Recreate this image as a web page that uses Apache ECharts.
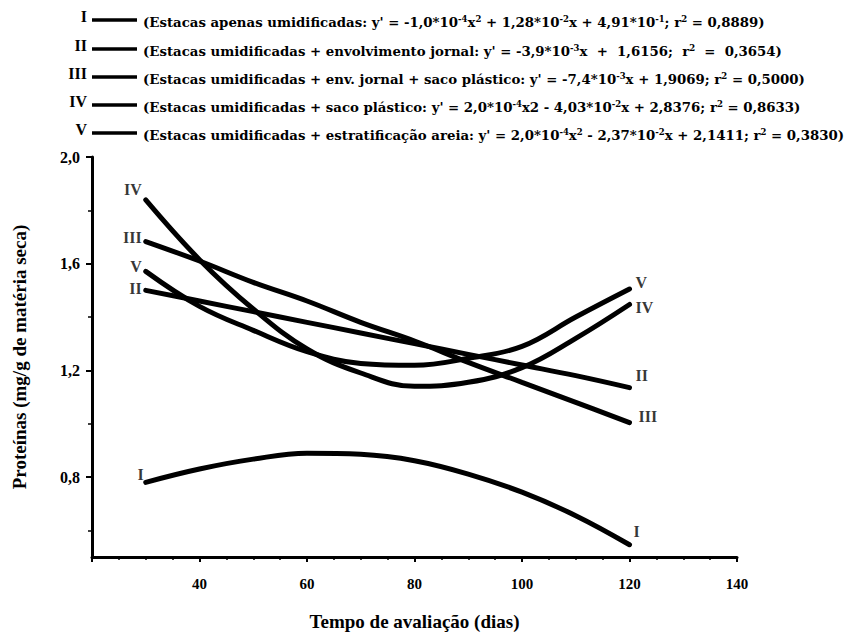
<!DOCTYPE html>
<html>
<head>
<meta charset="utf-8">
<script src="https://cdn.jsdelivr.net/npm/echarts@6/dist/echarts.min.js"></script>
<style>
  html, body { margin: 0; padding: 0; background: #fff; }
  #grafico { width: 847px; height: 636px; }
</style>
</head>
<body>
<div id="grafico"></div>
<script>
// dias de avaliacao (eixo x)
var dias = [30, 40, 50, 60, 70, 80, 90, 100, 110, 120];
// curvas
var curvaI   = [0.78, 0.83, 0.867, 0.889, 0.885, 0.861, 0.811, 0.743, 0.655, 0.546];
var curvaII  = [1.50, 1.46, 1.42, 1.38, 1.34, 1.30, 1.26, 1.22, 1.18, 1.135];
var curvaIII = [1.683, 1.61, 1.53, 1.46, 1.38, 1.31, 1.23, 1.155, 1.08, 1.004];
var curvaIV  = [1.839, 1.615, 1.43, 1.28, 1.19, 1.14, 1.155, 1.21, 1.32, 1.447];
var curvaV   = [1.571, 1.44, 1.35, 1.27, 1.226, 1.219, 1.245, 1.29, 1.40, 1.505];
var nomes = ['I', 'II', 'III', 'IV', 'V'];
var yTicks = [0.8, 1.2, 1.6, 2.0];
var yMinorTicks = [0.6, 1.0, 1.4, 1.8];
// legenda (texto entre chaves = sobrescrito)
var legendas = [
    "(Estacas apenas umidificadas: y' = -1,0*10{-4}x{2} + 1,28*10{-2}x + 4,91*10{-1}; r{2} = 0,8889)",
    "(Estacas umidificadas + envolvimento jornal: y' = -3,9*10{-3}x  +  1,6156;  r{2}  =  0,3654)",
    "(Estacas umidificadas + env. jornal + saco plástico: y' = -7,4*10{-3}x + 1,9069; r{2} = 0,5000)",
    "(Estacas umidificadas + saco plástico: y' = 2,0*10{-4}x2 - 4,03*10{-2}x + 2,8376; r{2} = 0,8633)",
    "(Estacas umidificadas + estratificação areia: y' = 2,0*10{-4}x{2} - 2,37*10{-2}x + 2,1411; r{2} = 0,3830)"
];

var fonte = 'Liberation Serif';
var fonteLeg = 'DejaVu Serif';
var curvas = [curvaI, curvaII, curvaIII, curvaIV, curvaV];

// posicao dos rotulos romanos no inicio e no fim de cada curva
var rotIni = [[2, -8], [0, -2], [0, -4], [0, -10], [0, -5]];
var rotFim = [[0, -13], [2, -12], [5, -6], [2, 3], [2, -7]];

// converte "{...}" em rich text sobrescrito
function richText(s) {
    return s.replace(/\{([^}]*)\}/g, function (m, p) { return '{sup|' + p + '}'; })
        .split(/(\{sup\|[^}]*\})/).map(function (t) {
            if (t.indexOf('{sup|') === 0) return t;
            return t ? '{n|' + t + '}' : '';
        }).join('');
}

function grafico() {
    var myChart = echarts.init(document.getElementById('grafico'), null, {renderer: 'svg'});
    var series = [];
    curvas.forEach(function (c, k) {
        series.push({
            name: nomes[k],
            type: 'line',
            smooth: 0.4,
            symbol: 'none',
            silent: true,
            data: dias.map(function (d, i) { return [d, c[i]]; }),
            lineStyle: {color: '#000', width: 5, cap: 'round'},
            z: 3
        });
        var ult = dias.length - 1;
        series.push({
            type: 'scatter',
            symbolSize: 0,
            silent: true,
            data: [
                {value: [dias[0], c[0]], label: {position: 'left', offset: rotIni[k]}},
                {value: [dias[ult], c[ult]], label: {position: 'right', offset: rotFim[k]}}
            ],
            label: {
                show: true,
                formatter: nomes[k],
                color: '#000',
                fontFamily: fonte,
                fontWeight: 'bold',
                fontSize: 16,
                distance: 4
            },
            z: 4
        });
    });

    var graphic = [];
    legendas.forEach(function (txt, k) {
        var y = [22, 51, 79, 107, 135][k];
        graphic.push({
            type: 'text', right: 847 - 87, top: y - 14,
            style: {text: nomes[k], font: 'bold 16px "' + fonte + '"', fill: '#000'}
        });
        graphic.push({
            type: 'line', shape: {x1: 92, y1: y - 2, x2: 137, y2: y - 2},
            style: {stroke: '#000', lineWidth: 3.5}
        });
        graphic.push({
            type: 'text', left: 143, top: y - 8,
            style: {
                text: richText(txt),
                rich: {
                    n: {fontFamily: fonteLeg, fontWeight: 'bold', fontSize: 13.3, lineHeight: 16, fill: '#000'},
                    sup: {fontFamily: fonteLeg, fontWeight: 'bold', fontSize: 8.5, lineHeight: 9, verticalAlign: 'top', fill: '#000'}
                }
            }
        });
    });

    var option = {
        animation: false,
        backgroundColor: '#fff',
        grid: {left: 92, right: 110, top: 157, bottom: 79},
        xAxis: {
            type: 'value',
            min: 20, max: 140, interval: 20,
            name: 'Tempo de avaliação (dias)',
            nameLocation: 'middle',
            nameGap: 55,
            nameTextStyle: {fontFamily: fonte, fontWeight: 'bold', fontSize: 19, color: '#000'},
            axisLine: {lineStyle: {color: '#000', width: 3}},
            axisTick: {lineStyle: {color: '#000', width: 2}, length: 5},
            minorTick: {show: true, splitNumber: 4, length: 3, lineStyle: {color: '#000', width: 1.5}},
            splitLine: {show: false},
            axisLabel: {
                fontFamily: fonte, fontWeight: 'bold', fontSize: 15, color: '#000', margin: 19,
                formatter: function (v) { return v === 20 ? '' : v; }
            }
        },
        yAxis: [{
            type: 'value',
            min: 0.5, max: 2.0,
            name: 'Proteínas (mg/g de matéria seca)',
            nameLocation: 'middle',
            nameGap: 63,
            nameTextStyle: {fontFamily: fonte, fontWeight: 'bold', fontSize: 19, color: '#000'},
            axisLine: {show: true, lineStyle: {color: '#000', width: 3}},
            axisTick: {show: true, customValues: yTicks, length: 6, lineStyle: {color: '#000', width: 2}},
            splitLine: {show: false},
            axisLabel: {
                customValues: yTicks,
                fontFamily: fonte, fontWeight: 'bold', fontSize: 16, color: '#000', margin: 12,
                formatter: function (v) { return v.toFixed(1).replace('.', ','); }
            }
        }, {
            type: 'value',
            position: 'left',
            min: 0.5, max: 2.0,
            axisLine: {show: false},
            axisTick: {show: true, customValues: yMinorTicks, length: 4, lineStyle: {color: '#000', width: 1.5}},
            axisLabel: {show: false},
            splitLine: {show: false}
        }],
        graphic: graphic,
        series: series
    };
    myChart.setOption(option);
}
grafico();
</script>
</body>
</html>
